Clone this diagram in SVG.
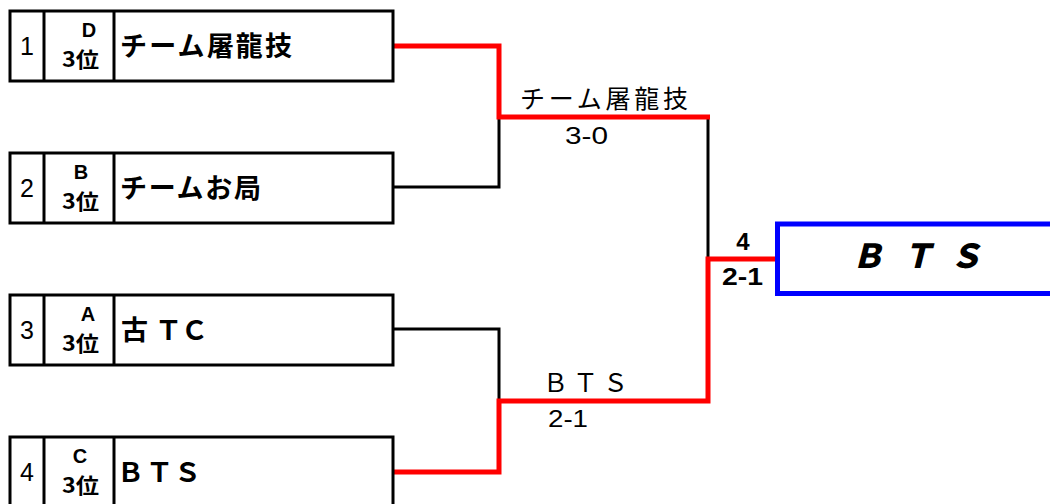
<svg xmlns="http://www.w3.org/2000/svg" width="1050" height="504" viewBox="0 0 1050 504">
<style>
.box{fill:#fff;stroke:#000;stroke-width:3}
.div{stroke:#000;stroke-width:3}
.num{font-family:"Liberation Sans","Noto Sans CJK JP",sans-serif;font-size:25px;text-anchor:middle;fill:#000}
.seed{font-family:"Liberation Sans","Noto Sans CJK JP",sans-serif;font-size:20px;font-weight:bold;text-anchor:middle;fill:#000}
.rank{font-family:"Noto Sans CJK JP",sans-serif;font-size:21px;font-weight:bold;fill:#000}
.team{font-family:"Noto Sans CJK JP",sans-serif;font-size:27px;font-weight:bold;fill:#000}
.win{font-family:"Noto Sans CJK JP",sans-serif;font-size:25px;fill:#000}
.score{font-family:"Liberation Sans","Noto Sans CJK JP",sans-serif;font-size:24px;fill:#000}
.bscore{font-family:"Liberation Sans","Noto Sans CJK JP",sans-serif;font-size:24px;font-weight:bold;fill:#000}
.black{fill:none;stroke:#000;stroke-width:3}
.red{fill:none;stroke:#f00;stroke-width:5}
.champ{fill:#fff;stroke:#00f;stroke-width:5}
.final{font-family:"Noto Sans CJK JP",sans-serif;font-size:33px;font-weight:900;font-style:italic;fill:#000}
</style>
<g id="connectors">
<polyline class="black" points="393,187 499,187 499,117"/>
<polyline class="black" points="393,329 499,329 499,401"/>
<polyline class="black" points="708,117 708,259"/>
<polyline class="red" points="393,46 499,46 499,117 710,117"/>
<polyline class="red" points="393,472 499,472 499,401 708,401 708,259 777,259"/>
</g>
<g id="team1">
<rect class="box" x="10" y="11" width="383" height="70"/>
<line class="div" x1="44" y1="11" x2="44" y2="81"/>
<line class="div" x1="114" y1="11" x2="114" y2="81"/>
<text class="num" x="27" y="55">1</text>
<text class="seed" x="89" y="37">D</text>
<text class="rank" x="62" y="67" textLength="37" lengthAdjust="spacingAndGlyphs">3位</text>
<text class="team" x="120" y="56" textLength="172" lengthAdjust="spacing">チーム屠龍技</text>
</g>
<g id="team2">
<rect class="box" x="10" y="153" width="383" height="70"/>
<line class="div" x1="44" y1="153" x2="44" y2="223"/>
<line class="div" x1="114" y1="153" x2="114" y2="223"/>
<text class="num" x="27" y="197">2</text>
<text class="seed" x="81" y="179">B</text>
<text class="rank" x="62" y="209" textLength="37" lengthAdjust="spacingAndGlyphs">3位</text>
<text class="team" x="120" y="198" textLength="141" lengthAdjust="spacing">チームお局</text>
</g>
<g id="team3">
<rect class="box" x="10" y="295" width="383" height="70"/>
<line class="div" x1="44" y1="295" x2="44" y2="365"/>
<line class="div" x1="114" y1="295" x2="114" y2="365"/>
<text class="num" x="27" y="339">3</text>
<text class="seed" x="88" y="321">A</text>
<text class="rank" x="62" y="351" textLength="37" lengthAdjust="spacingAndGlyphs">3位</text>
<text class="team" x="121 155 181" y="340">古ＴＣ</text>
</g>
<g id="team4">
<rect class="box" x="10" y="437" width="383" height="75"/>
<line class="div" x1="44" y1="437" x2="44" y2="512"/>
<line class="div" x1="114" y1="437" x2="114" y2="512"/>
<text class="num" x="27" y="481">4</text>
<text class="seed" x="80" y="463">C</text>
<text class="rank" x="62" y="493" textLength="37" lengthAdjust="spacingAndGlyphs">3位</text>
<text class="team" x="117 146 174" y="482">ＢＴＳ</text>
</g>
<g id="semi1-label">
<text class="win" x="520" y="108" textLength="168" lengthAdjust="spacing">チーム屠龍技</text>
<text class="score" x="565" y="144" textLength="43" lengthAdjust="spacingAndGlyphs">3-0</text>
</g>
<g id="semi2-label">
<text class="win" x="543 573 603" y="392">ＢＴＳ</text>
<text class="score" x="548" y="427" textLength="40" lengthAdjust="spacingAndGlyphs">2-1</text>
</g>
<g id="final-label">
<text class="bscore" x="743" y="250" text-anchor="middle">4</text>
<text class="bscore" x="722" y="285" textLength="41" lengthAdjust="spacingAndGlyphs">2-1</text>
</g>
<g id="champion">
<rect class="champ" x="777.5" y="224" width="300" height="69.5"/>
<text class="final" x="851 901 949" y="268">ＢＴＳ</text>
</g>
</svg>
